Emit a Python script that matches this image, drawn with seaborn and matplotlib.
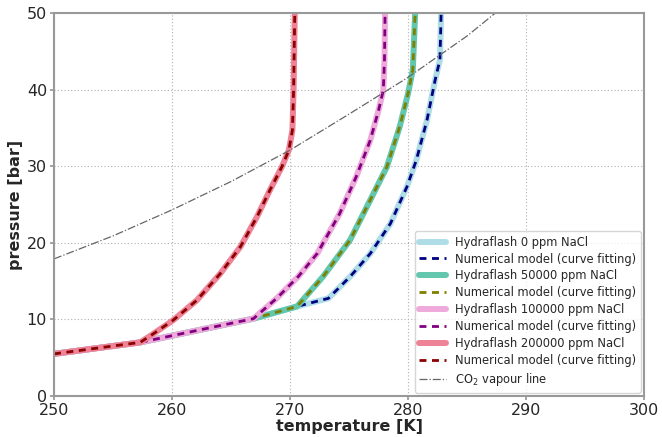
import matplotlib
matplotlib.use("Agg")
import matplotlib.pyplot as plt
import seaborn as sns
import pandas as pd

# 200000 ppm NaCl
t_200k = [250.0, 257.3, 258.3, 260.1, 262.1, 264.1, 265.8, 267.2, 268.3, 269.3, 269.9, 270.2, 270.3, 270.4]
p_200k = [5.5, 7.0, 8.0, 9.9, 12.5, 16.0, 19.5, 23.4, 26.9, 29.9, 32.1, 34.7, 40.0, 50.0]

# 100000 ppm NaCl
t_100k = [250.0, 257.3, 266.9, 268.9, 270.7, 272.3, 274.2, 275.6, 276.8, 277.5, 277.9, 278.0, 278.05]
p_100k = [5.5, 7.0, 10.1, 12.8, 15.6, 18.6, 23.8, 28.6, 33.4, 37.3, 39.9, 43.9, 50.0]

# 50000 ppm NaCl
t_50k = [250.0, 257.3, 266.9, 270.6, 272.8, 275.1, 276.8, 278.2, 279.3, 280.0, 280.4, 280.6]
p_50k = [5.5, 7.0, 10.1, 11.7, 15.6, 20.4, 25.6, 29.9, 35.2, 39.5, 42.6, 50.0]

# 0 ppm NaCl
t_0 = [250.0, 257.3, 266.9, 270.6, 273.25, 275.1, 276.8, 278.5, 279.9, 280.7, 281.6, 282.3, 282.7, 282.8]
p_0 = [5.5, 7.0, 10.1, 11.7, 12.75, 15.6, 18.6, 22.5, 27.3, 30.8, 36.0, 41.3, 43.9, 50.0]

# CO2 vapour line
t_co2 = [250.0, 255.0, 260.0, 265.0, 270.0, 275.0, 280.0, 285.0, 287.4]
p_co2 = [17.9, 20.9, 24.3, 28.0, 32.1, 36.8, 41.6, 47.0, 50.0]

x_ticks = [250, 260, 270, 280, 290, 300]
y_ticks = [0, 10, 20, 30, 40, 50]

sns.set_theme(style="white")
plt.rcParams['font.family'] = ['DejaVu Sans']

fig = plt.figure(figsize=(6.62, 4.37), dpi=100)
ax = fig.add_axes([0.0816, 0.0938, 0.8914, 0.8765])

series = [
    (t_0, p_0, "Hydraflash 0 ppm NaCl", "#aedde8", "navy"),
    (t_50k, p_50k, "Hydraflash 50000 ppm NaCl", "#62c7ad", "olive"),
    (t_100k, p_100k, "Hydraflash 100000 ppm NaCl", "#eeaadb", "purple"),
    (t_200k, p_200k, "Hydraflash 200000 ppm NaCl", "#ee8296", "darkred"),
]

for t, p, lab, c_h, c_n in series:
    df = pd.DataFrame({"T": t, "P": p})
    sns.lineplot(data=df, x="T", y="P", sort=False, ax=ax, color=c_h, lw=4.3,
                 label=lab)
    sns.lineplot(data=df, x="T", y="P", sort=False, ax=ax, color=c_n, lw=2,
                 linestyle=(0, (2.5, 2)), label="Numerical model (curve fitting)")

dfc = pd.DataFrame({"T": t_co2, "P": p_co2})
sns.lineplot(data=dfc, x="T", y="P", sort=False, ax=ax, color="#666666", lw=0.9,
             linestyle="-.", label="CO$_2$ vapour line")

ax.set_xlim(250, 300)
ax.set_ylim(0, 50)
ax.set_xticks(x_ticks)
ax.set_yticks(y_ticks)
ax.tick_params(labelsize=11.5, length=3, pad=2, color="#999999", direction="out",
               bottom=True, left=True)
ax.grid(True, linestyle=(0, (1, 2)), color="#b0b0b0", lw=0.8)
for s in ax.spines.values():
    s.set_color("#999999")
    s.set_linewidth(1.5)
ax.set_xlabel("temperature [K]", fontsize=11.5, fontweight="bold", labelpad=1)
ax.set_ylabel("pressure [bar]", fontsize=11.5, fontweight="bold", labelpad=3)

leg = ax.legend(loc="lower right", fontsize=8.3, frameon=True, handlelength=2.3,
                borderpad=0.4, labelspacing=0.34, borderaxespad=0.3)
leg.get_frame().set_edgecolor("#cccccc")

fig.savefig("out.png", dpi=100)
